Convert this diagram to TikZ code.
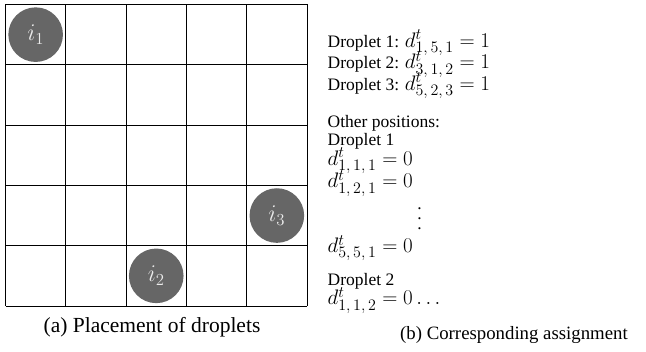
\RequirePackage{fix-cm}
\documentclass[tikz,border=0pt]{standalone}
\usepackage[no-math]{fontspec}
\setmainfont{Liberation Serif}
\DeclareMathSizes{21}{21}{16}{12}
\definecolor{dropgray}{RGB}{102,102,102}
\definecolor{droptext}{RGB}{235,235,235}
\newcommand{\mathbig}[1]{{\fontsize{21}{25}\selectfont$#1$}}
\tikzset{
  gridline/.style={line width=0.9pt, black},
  droplet/.style={circle, fill=dropgray, draw=none, minimum size=54.6pt, inner sep=0pt,
    text=droptext, font=\fontsize{24}{28}\selectfont},
  rtext/.style={anchor=base west, inner sep=0pt, font=\fontsize{17.5}{21}\selectfont},
  captexta/.style={anchor=base, inner sep=0pt, font=\fontsize{21.5}{25}\selectfont},
  captextb/.style={anchor=base, inner sep=0pt, font=\fontsize{18.8}{23}\selectfont}
}
\begin{document}
\begin{tikzpicture}[x=1pt,y=-1pt]
\useasboundingbox (0,0) rectangle (646,352);
% grid
\foreach \k in {0,...,5}{
  \draw[gridline] ({5.5+60.3*\k},4.5) -- ({5.5+60.3*\k},306);
  \draw[gridline] (5.5,{4.5+60.3*\k}) -- (307,{4.5+60.3*\k});
}
% droplets
\node[droplet] (i1) at ({5.5+60.3*0.5},{4.5+60.3*0.5}) {$i_1$};
\node[droplet] (i2) at ({5.5+60.3*2.5},{4.5+60.3*4.5}) {$i_2$};
\node[droplet] (i3) at ({5.5+60.3*4.5},{4.5+60.3*3.5}) {$i_3$};
% caption (a)
\node[captexta] (capa) at (152,333) {(a) Placement of droplets};
% right text
\node[rtext] (l1) at (327.5,47.5) {Droplet 1: \mathbig{d^t_{1,\,5,\,1} = 1}};
\node[rtext] (l2) at (327.5,69) {Droplet 2: \mathbig{d^t_{3,\,1,\,2} = 1}};
\node[rtext] (l3) at (327.5,90.5) {Droplet 3: \mathbig{d^t_{5,\,2,\,3} = 1}};
\node[rtext] (l4) at (327.5,127.5) {Other positions:};
\node[rtext] (l5) at (327.5,145.5) {Droplet 1};
\node[rtext] (l6) at (327.5,165.5) {\mathbig{d^t_{1,\,1,\,1} = 0}};
\node[rtext] (l7) at (327.5,188) {\mathbig{d^t_{1,\,2,\,1} = 0}};
\node[anchor=north, inner sep=0pt, font=\fontsize{17.5}{21}\selectfont] (vd) at (419.5,207)
  {\vbox{\baselineskip10pt\lineskiplimit0pt\hbox{.}\hbox{.}\hbox{.}}};
\node[rtext] (l8) at (327.5,252.7) {\mathbig{d^t_{5,\,5,\,1} = 0}};
\node[rtext] (l9) at (327.5,286) {Droplet 2};
\node[rtext] (l10) at (327.5,305) {\mathbig{d^t_{1,\,1,\,2} = 0 \dots}};
% caption (b)
\node[captextb] (capb) at (514,339.5) {(b) Corresponding assignment};
\end{tikzpicture}
\end{document}
